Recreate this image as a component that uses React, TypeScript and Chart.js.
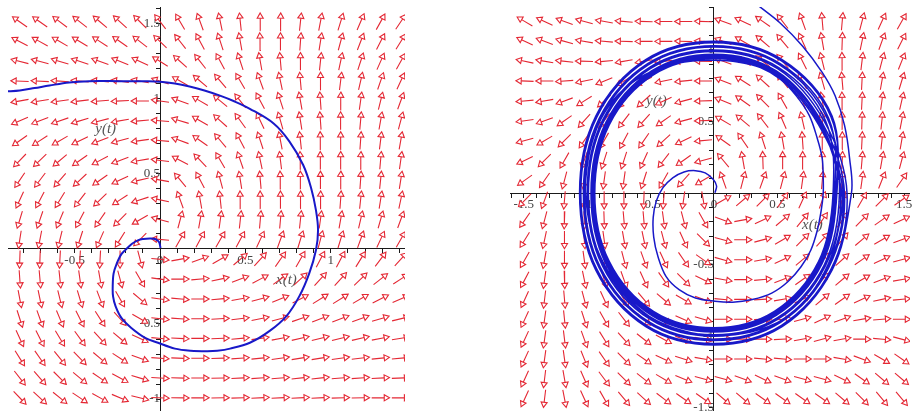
import React, { useEffect, useRef } from 'react';
import { Chart, registerables } from 'chart.js';

Chart.register(...registerables);

// ---------- LEFT PANEL DATA ----------
const LEFT_X_RANGE = [-0.89, 1.4335];
const LEFT_Y_RANGE = [-1.079, 1.612];
const LEFT_X_TICKS = [-0.8, -0.7, -0.6, -0.5, -0.4, -0.3, -0.2, -0.1, 0, 0.1, 0.2, 0.3, 0.4, 0.5, 0.6, 0.7, 0.8, 0.9, 1.0, 1.1, 1.2, 1.3, 1.4];
const LEFT_Y_TICKS = [-1.0, -0.9, -0.8, -0.7, -0.6, -0.5, -0.4, -0.3, -0.2, -0.1, 0, 0.1, 0.2, 0.3, 0.4, 0.5, 0.6, 0.7, 0.8, 0.9, 1.0, 1.1, 1.2, 1.3, 1.4, 1.5, 1.6];
const LEFT_GRID_X = [-0.821, -0.703, -0.586, -0.469, -0.351, -0.234, -0.117, 0.001, 0.118, 0.235, 0.353, 0.47, 0.587, 0.705, 0.822, 0.939, 1.057, 1.174, 1.291, 1.409];
const LEFT_GRID_Y = [1.513, 1.381, 1.249, 1.118, 0.986, 0.854, 0.722, 0.59, 0.459, 0.327, 0.195, 0.063, -0.069, -0.201, -0.333, -0.465, -0.596, -0.728, -0.86, -0.992];
// arrow direction (degrees, counter-clockwise from +x) for each grid row (top to bottom)
const LEFT_FIELD_ANGLES = [
  [145, 145, 143, 142, 140, 138, 135, 128, 120, 110, 102, 96, 91, 88, 84, 79, 73, 67, 61, 56],
  [152, 151, 150, 149, 147, 145, 142, 136, 128, 118, 108, 100, 94, 90, 86, 81, 75, 69, 63, 58],
  [166, 165, 163, 162, 160, 158, 155, 148, 138, 128, 118, 108, 100, 95, 90, 84, 78, 72, 66, 61],
  [178, 177, 176, 175, 174, 172, 170, 162, 150, 140, 130, 120, 110, 102, 95, 89, 83, 77, 71, 65],
  [190, 189, 188, 187, 185, 183, 180, 172, 160, 150, 140, 128, 118, 108, 100, 94, 88, 82, 76, 70],
  [203, 201, 199, 197, 194, 190, 185, 175, 163, 150, 138, 126, 115, 106, 99, 94, 90, 85, 80, 75],
  [215, 213, 210, 206, 201, 195, 188, 175, 160, 145, 130, 118, 108, 101, 96, 92, 89, 86, 83, 80],
  [226, 224, 220, 215, 208, 200, 190, 173, 152, 134, 120, 109, 102, 97, 93, 91, 89, 87, 85, 82],
  [236, 233, 229, 223, 215, 205, 193, 170, 130, 118, 105, 99, 95, 93, 91, 90, 88, 86, 84, 81],
  [245, 242, 238, 232, 224, 213, 198, 168, 110, 100, 96, 92, 91, 90, 89, 88, 86, 84, 81, 78],
  [253, 251, 247, 242, 235, 225, 210, 165, 75, 80, 82, 84, 85, 85, 84, 82, 80, 77, 74, 70],
  [261, 259, 256, 252, 246, 238, 225, 175, 60, 62, 60, 62, 65, 70, 73, 75, 73, 70, 65, 60],
  [268, 268, 267, 267, 267, 270, 285, 355, 10, 20, 30, 40, 48, 55, 60, 62, 62, 58, 53, 48],
  [274, 275, 276, 278, 280, 285, 300, 352, 0, 5, 12, 20, 28, 36, 43, 48, 48, 44, 38, 33],
  [281, 282, 284, 287, 291, 300, 320, 352, 355, 0, 5, 10, 15, 22, 28, 32, 32, 30, 27, 24],
  [288, 290, 293, 297, 303, 312, 330, 354, 356, 0, 3, 7, 11, 15, 19, 21, 21, 20, 17, 14],
  [295, 297, 301, 306, 312, 320, 335, 355, 357, 0, 2, 5, 8, 11, 13, 14, 14, 13, 11, 9],
  [302, 305, 309, 314, 320, 327, 340, 356, 358, 0, 2, 4, 6, 8, 9, 9, 8, 7, 6, 5],
  [308, 311, 315, 320, 326, 332, 343, 357, 358, 0, 1, 3, 4, 5, 6, 6, 5, 4, 3, 2],
  [314, 317, 321, 326, 331, 337, 346, 358, 359, 0, 1, 2, 3, 3, 3, 3, 2, 1, 0, 0],
];
const LEFT_TRAJ_X = [0.003, -0.006, -0.029, -0.06, -0.098, -0.127, -0.162, -0.185, -0.225, -0.254, -0.272, -0.277, -0.275, -0.26, -0.225, -0.168, -0.087, -0.012, 0.087, 0.179, 0.277, 0.335, 0.41, 0.526, 0.642, 0.74, 0.815, 0.873, 0.913, 0.925, 0.913, 0.884, 0.838, 0.757, 0.665, 0.526, 0.434, 0.347, 0.26, 0.173, 0.087, 0.0, -0.087, -0.243, -0.416, -0.532, -0.647, -0.734, -0.821, -0.902];
const LEFT_TRAJ_Y = [0.007, 0.046, 0.066, 0.069, 0.066, 0.059, 0.036, 0.013, -0.033, -0.099, -0.164, -0.25, -0.316, -0.382, -0.461, -0.526, -0.592, -0.625, -0.664, -0.678, -0.681, -0.678, -0.664, -0.625, -0.546, -0.447, -0.316, -0.164, -0.007, 0.125, 0.257, 0.408, 0.559, 0.717, 0.836, 0.934, 0.984, 1.023, 1.056, 1.082, 1.102, 1.114, 1.117, 1.118, 1.118, 1.109, 1.089, 1.072, 1.056, 1.049];

// ---------- RIGHT PANEL DATA ----------
const RIGHT_X_RANGE = [-1.608, 1.546];
const RIGHT_Y_RANGE = [-1.521, 1.3];
const RIGHT_X_TICKS = [-1.6, -1.5, -1.4, -1.3, -1.2, -1.1, -1.0, -0.9, -0.8, -0.7, -0.6, -0.5, -0.4, -0.3, -0.2, -0.1, 0, 0.1, 0.2, 0.3, 0.4, 0.5, 0.6, 0.7, 0.8, 0.9, 1.0, 1.1, 1.2, 1.3, 1.4, 1.5];
const RIGHT_Y_TICKS = [-1.5, -1.4, -1.3, -1.2, -1.1, -1.0, -0.9, -0.8, -0.7, -0.6, -0.5, -0.4, -0.3, -0.2, -0.1, 0, 0.1, 0.2, 0.3, 0.4, 0.5, 0.6, 0.7, 0.8, 0.9, 1.0, 1.1, 1.2, 1.3];
const RIGHT_GRID_X = [-1.492, -1.336, -1.179, -1.023, -0.866, -0.71, -0.553, -0.397, -0.24, -0.084, 0.073, 0.229, 0.386, 0.542, 0.699, 0.855, 1.012, 1.168, 1.325, 1.481];
const RIGHT_GRID_Y = [1.199, 1.06, 0.921, 0.783, 0.644, 0.506, 0.367, 0.229, 0.09, -0.049, -0.188, -0.326, -0.465, -0.604, -0.742, -0.881, -1.02, -1.158, -1.297, -1.435];
const RIGHT_FIELD_ANGLES = [
  [150, 155, 160, 165, 170, 175, 178, 180, 180, 178, 160, 155, 145, 128, 110, 95, 85, 75, 65, 60],
  [155, 160, 165, 170, 175, 178, 180, 180, 178, 176, 160, 150, 140, 130, 115, 100, 88, 78, 70, 63],
  [168, 170, 174, 178, 185, 190, 190, 186, 182, 178, 160, 152, 142, 130, 117, 104, 92, 83, 75, 68],
  [178, 180, 184, 192, 202, 210, 205, 192, 186, 180, 158, 148, 138, 128, 118, 106, 95, 87, 80, 73],
  [185, 190, 200, 212, 222, 228, 222, 205, 195, 182, 158, 145, 135, 120, 110, 100, 92, 87, 82, 77],
  [188, 200, 215, 228, 232, 232, 228, 215, 195, 182, 150, 140, 128, 114, 103, 96, 91, 88, 84, 79],
  [195, 210, 225, 235, 240, 242, 235, 222, 205, 185, 145, 125, 108, 100, 94, 91, 89, 87, 84, 80],
  [205, 225, 240, 250, 252, 252, 245, 232, 215, 195, 130, 100, 92, 90, 89, 88, 87, 85, 80, 75],
  [215, 235, 255, 262, 262, 262, 252, 240, 228, 210, 110, 75, 70, 75, 82, 85, 85, 82, 68, 55],
  [225, 250, 265, 270, 270, 270, 268, 265, 262, 280, 30, 40, 45, 55, 65, 70, 70, 60, 45, 35],
  [235, 255, 268, 272, 272, 275, 275, 278, 285, 300, 340, 10, 25, 40, 50, 55, 55, 45, 35, 25],
  [238, 258, 270, 275, 278, 280, 282, 285, 295, 315, 345, 0, 15, 30, 45, 48, 50, 40, 30, 20],
  [240, 260, 270, 278, 283, 285, 290, 295, 305, 325, 345, 0, 10, 25, 40, 45, 42, 35, 25, 15],
  [242, 262, 272, 282, 288, 290, 295, 305, 315, 335, 350, 0, 5, 20, 35, 45, 40, 30, 20, 10],
  [245, 263, 275, 285, 295, 300, 310, 320, 330, 340, 355, 0, 3, 10, 25, 40, 35, 25, 12, 5],
  [245, 262, 276, 288, 300, 308, 318, 328, 336, 344, 0, 0, 2, 5, 15, 25, 20, 10, 5, 0],
  [245, 262, 277, 290, 302, 312, 322, 332, 340, 348, 0, 0, 0, 3, 10, 15, 10, 0, 355, 345],
  [245, 262, 278, 292, 305, 315, 325, 335, 342, 350, 0, 0, 355, 355, 0, 0, 350, 340, 330, 325],
  [245, 263, 280, 294, 307, 315, 322, 330, 338, 345, 345, 340, 335, 340, 345, 345, 335, 325, 320, 320],
  [245, 263, 281, 295, 300, 310, 318, 323, 325, 325, 320, 320, 325, 325, 325, 325, 320, 315, 310, 310],
];
// inner spiral leaving the origin
const RIGHT_INNER_X = [0.008, 0.021, -0.005, -0.069, -0.146, -0.236, -0.325, -0.402, -0.454, -0.479, -0.475, -0.441, -0.377, -0.275, -0.146, 0.008, 0.148, 0.302, 0.456, 0.585, 0.687, 0.764, 0.815, 0.846, 0.862, 0.862, 0.854, 0.815, 0.752, 0.648, 0.521, 0.367, 0.187, 0.002, -0.172, -0.377, -0.582, -0.762, -0.89, -0.967, -1.005, -1.013, -0.97, -0.87, -0.71, -0.51, -0.25, 0, 0.29, 0.55, 0.75, 0.905, 0.98, 1.01];
const RIGHT_INNER_Y = [0.003, 0.05, 0.095, 0.141, 0.157, 0.148, 0.107, 0.038, -0.054, -0.169, -0.307, -0.445, -0.583, -0.674, -0.732, -0.755, -0.762, -0.743, -0.698, -0.617, -0.514, -0.399, -0.261, -0.123, -0.003, 0.107, 0.245, 0.383, 0.543, 0.681, 0.797, 0.877, 0.916, 0.928, 0.923, 0.888, 0.808, 0.681, 0.521, 0.337, 0.153, -0.008, -0.26, -0.49, -0.7, -0.86, -0.96, -0.995, -0.97, -0.88, -0.72, -0.49, -0.26, 0];
// the many turns that pile up around the cycle
const RIGHT_BAND_X = [
  0.835, 0.482, 0, -0.482, -0.835, -0.95, -0.835, -0.482, 0, 0.482, 0.835, 0.95,
  0.905, 0.523, 0, -0.523, -0.905, -1.03, -0.905, -0.523, 0, 0.523, 0.905, 1.03,
  0.853, 0.492, 0, -0.492, -0.853, -0.97, -0.853, -0.492, 0, 0.492, 0.853, 0.97,
  0.923, 0.533, 0, -0.533, -0.923, -1.05, -0.923, -0.533, 0, 0.533, 0.923, 1.05,
  0.87, 0.502, 0, -0.502, -0.87, -0.99, -0.87, -0.502, 0, 0.502, 0.87, 0.99,
  0.896, 0.518, 0, -0.518, -0.896, -1.02, -0.896, -0.518, 0, 0.518, 0.896, 1.02,
  0.826, 0.477, 0, -0.477, -0.826, -0.94, -0.826, -0.477, 0, 0.477, 0.826, 0.94,
  0.879, 0.508, 0, -0.508, -0.879, -1.0, -0.879, -0.508, 0, 0.508, 0.879, 1.0,
  0.844, 0.487, 0, -0.487, -0.844, -0.96, -0.844, -0.487, 0, 0.487, 0.844, 0.96,
  0.932, 0.538, 0, -0.538, -0.932, -1.06, -0.932, -0.538, 0, 0.538, 0.932, 1.085,
];
const RIGHT_BAND_Y = [
  0.482, 0.835, 0.95, 0.835, 0.482, 0, -0.482, -0.835, -0.95, -0.835, -0.482, 0,
  0.523, 0.905, 1.03, 0.905, 0.523, 0, -0.523, -0.905, -1.03, -0.905, -0.523, 0,
  0.492, 0.853, 0.97, 0.853, 0.492, 0, -0.492, -0.853, -0.97, -0.853, -0.492, 0,
  0.533, 0.923, 1.05, 0.923, 0.533, 0, -0.533, -0.923, -1.05, -0.923, -0.533, 0,
  0.502, 0.87, 0.99, 0.87, 0.502, 0, -0.502, -0.87, -0.99, -0.87, -0.502, 0,
  0.518, 0.896, 1.02, 0.896, 0.518, 0, -0.518, -0.896, -1.02, -0.896, -0.518, 0,
  0.477, 0.826, 0.94, 0.826, 0.477, 0, -0.477, -0.826, -0.94, -0.826, -0.477, 0,
  0.508, 0.879, 1.0, 0.879, 0.508, 0, -0.508, -0.879, -1.0, -0.879, -0.508, 0,
  0.487, 0.844, 0.96, 0.844, 0.487, 0, -0.487, -0.844, -0.96, -0.844, -0.487, 0,
  0.538, 0.932, 1.06, 0.932, 0.538, 0, -0.538, -0.932, -1.06, -0.932, -0.538, 0,
];
// final escape to the top
const RIGHT_EXIT_X = [1.07, 1.03, 0.956, 0.854, 0.7, 0.52, 0.354];
const RIGHT_EXIT_Y = [0.245, 0.475, 0.68, 0.843, 1.026, 1.19, 1.307];

// ---------- STYLE ----------
const ARROW_COLOR = 'rgb(228, 40, 52)';
const CURVE_COLOR = 'rgb(24, 24, 200)';
const AXIS_COLOR = '#1a1a1a';
const LABEL_COLOR = '#444';
const CANVAS_W = 410;
const CANVAS_H = 416;
const ARROW_LEN = 18;
const HEAD_R = 3.5;

const axisTextPlugin = {
  id: 'axisText',
  beforeDatasetsDraw(chart: any, _args: any, opts: any) {
    const { ctx, scales } = chart;
    ctx.save();
    ctx.font = 'italic 15px "Liberation Serif", "DejaVu Serif", serif';
    ctx.fillStyle = '#555';
    ctx.textAlign = 'center';
    ctx.textBaseline = 'middle';
    (opts.items || []).forEach((it: any) => {
      ctx.fillText(it.text, scales.x.getPixelForValue(it.x), scales.y.getPixelForValue(it.y));
    });
    ctx.restore();
  },
};

function fmtTick(v: number, skipZero: boolean) {
  const h = Math.round(v * 2);
  if (Math.abs(v * 2 - h) > 1e-6) return '';
  if (skipZero && h === 0) return '';
  return String(h / 2);
}

function buildField(xs: number[], ys: number[], angles: number[][], pxX: number, pxY: number) {
  const shafts: any[] = [];
  const heads: any[] = [];
  const rots: number[] = [];
  const half = ARROW_LEN / 2;
  ys.forEach((y, j) => {
    xs.forEach((x, i) => {
      const deg = angles[j][i];
      const a = (deg * Math.PI) / 180;
      const c = Math.cos(a);
      const s = Math.sin(a);
      const shaftEnd = half - HEAD_R * 1.5;
      const headC = half - HEAD_R;
      shafts.push({ x: x - (c * half) / pxX, y: y - (s * half) / pxY });
      shafts.push({ x: x + (c * shaftEnd) / pxX, y: y + (s * shaftEnd) / pxY });
      shafts.push({ x: x, y: null });
      heads.push({ x: x + (c * headC) / pxX, y: y + (s * headC) / pxY });
      rots.push(90 - deg);
    });
  });
  return { shafts, heads, rots };
}

function makeConfig(p: any) {
  const areaW = CANVAS_W - p.padLeft;
  const areaH = CANVAS_H - p.padTop;
  const pxX = areaW / (p.xRange[1] - p.xRange[0]);
  const pxY = areaH / (p.yRange[1] - p.yRange[0]);
  const field = buildField(p.gridX, p.gridY, p.angles, pxX, pxY);
  const traj = p.trajX.map((x: number, i: number) => ({ x, y: p.trajY[i] }));
  const zeroPad = (s: any) => {
    s.paddingTop = 0;
    s.paddingBottom = 0;
    s.paddingLeft = 0;
    s.paddingRight = 0;
  };
  const tickFont = { family: '"Liberation Serif", "DejaVu Serif", serif', size: 13 };
  return {
    type: 'line',
    data: {
      datasets: [
        {
          type: 'line',
          data: traj,
          borderColor: CURVE_COLOR,
          borderWidth: p.curveWidth,
          pointRadius: 0,
          tension: 0.35,
          cubicInterpolationMode: 'default',
          fill: false,
          order: 0,
        },
        {
          type: 'scatter',
          data: field.heads,
          pointStyle: 'triangle',
          pointRadius: HEAD_R,
          pointRotation: field.rots,
          pointBackgroundColor: '#fff',
          pointBorderColor: ARROW_COLOR,
          pointBorderWidth: 1.1,
          showLine: false,
          order: 1,
        },
        {
          type: 'line',
          data: field.shafts,
          spanGaps: false,
          borderColor: ARROW_COLOR,
          borderWidth: 1.1,
          pointRadius: 0,
          tension: 0,
          fill: false,
          order: 2,
        },
      ],
    },
    options: {
      animation: false,
      responsive: false,
      maintainAspectRatio: false,
      events: [],
      layout: { padding: { left: p.padLeft, top: p.padTop, right: 0, bottom: 0 } },
      plugins: {
        legend: { display: false },
        tooltip: { enabled: false },
        axisText: { items: p.texts },
      },
      scales: {
        x: {
          type: 'linear',
          min: p.xRange[0],
          max: p.xRange[1],
          position: { y: 0 },
          afterBuildTicks: (s: any) => {
            s.ticks = p.xTicks.map((v: number) => ({ value: v }));
          },
          afterFit: zeroPad,
          ticks: {
            autoSkip: false,
            maxRotation: 0,
            padding: 0,
            color: LABEL_COLOR,
            font: tickFont,
            callback: (v: number) => fmtTick(v, false),
          },
          grid: { drawOnChartArea: false, drawTicks: true, tickLength: 4, tickColor: AXIS_COLOR },
          border: { display: true, color: AXIS_COLOR, width: 1 },
        },
        y: {
          type: 'linear',
          min: p.yRange[0],
          max: p.yRange[1],
          position: { x: 0 },
          afterBuildTicks: (s: any) => {
            s.ticks = p.yTicks.map((v: number) => ({ value: v }));
          },
          afterFit: zeroPad,
          ticks: {
            autoSkip: false,
            padding: 3,
            color: LABEL_COLOR,
            font: tickFont,
            callback: (v: number) => fmtTick(v, true),
          },
          grid: { drawOnChartArea: false, drawTicks: true, tickLength: 4, tickColor: AXIS_COLOR },
          border: { display: true, color: AXIS_COLOR, width: 1 },
        },
      },
    },
    plugins: [axisTextPlugin],
  };
}

const LEFT_PANEL = {
  padLeft: 8,
  padTop: 7,
  xRange: LEFT_X_RANGE,
  yRange: LEFT_Y_RANGE,
  xTicks: LEFT_X_TICKS,
  yTicks: LEFT_Y_TICKS,
  gridX: LEFT_GRID_X,
  gridY: LEFT_GRID_Y,
  angles: LEFT_FIELD_ANGLES,
  trajX: LEFT_TRAJ_X,
  trajY: LEFT_TRAJ_Y,
  curveWidth: 2,
  texts: [
    { text: 'y(t)', x: -0.318, y: 0.8 },
    { text: 'x(t)', x: 0.74, y: -0.204 },
  ],
};

const RIGHT_PANEL = {
  padLeft: 0,
  padTop: 7,
  xRange: RIGHT_X_RANGE,
  yRange: RIGHT_Y_RANGE,
  xTicks: RIGHT_X_TICKS,
  yTicks: RIGHT_Y_TICKS,
  gridX: RIGHT_GRID_X,
  gridY: RIGHT_GRID_Y,
  angles: RIGHT_FIELD_ANGLES,
  trajX: [...RIGHT_INNER_X, ...RIGHT_BAND_X, ...RIGHT_EXIT_X],
  trajY: [...RIGHT_INNER_Y, ...RIGHT_BAND_Y, ...RIGHT_EXIT_Y],
  curveWidth: 1.5,
  texts: [
    { text: 'y(t)', x: -0.454, y: 0.645 },
    { text: 'x(t)', x: 0.777, y: -0.224 },
  ],
};

function Panel({ panel, left }: { panel: any; left: number }) {
  const ref = useRef<HTMLCanvasElement | null>(null);
  useEffect(() => {
    if (!ref.current) return;
    const chart = new Chart(ref.current, makeConfig(panel) as any);
    return () => chart.destroy();
  }, [panel]);
  return (
    <canvas
      ref={ref}
      width={CANVAS_W}
      height={CANVAS_H}
      style={{ position: 'absolute', left, top: 0, width: CANVAS_W, height: CANVAS_H }}
    />
  );
}

export default function App() {
  return (
    <div style={{ position: 'absolute', left: 0, top: 0, width: 915, height: 416, background: '#fff', overflow: 'hidden' }}>
      <Panel panel={LEFT_PANEL} left={0} />
      <Panel panel={RIGHT_PANEL} left={505} />
    </div>
  );
}
